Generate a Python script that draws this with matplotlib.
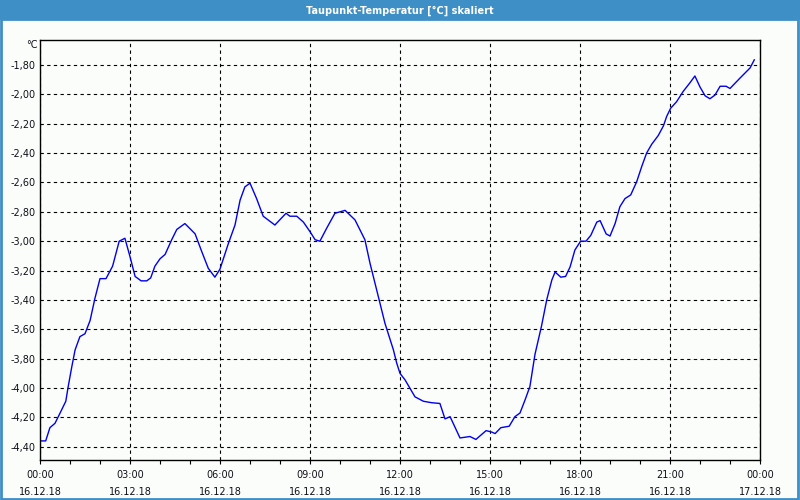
import numpy as np
import matplotlib.pyplot as plt
from matplotlib.patches import Rectangle
from matplotlib.ticker import MultipleLocator

title = 'Taupunkt-Temperatur [°C] skaliert'
unit = '°C'

# Stunden ab 16.12.18 00:00 und Taupunkt in °C
hours = [0.0, 0.19, 0.33, 0.5, 0.67, 0.86, 0.94, 1.06, 1.17, 1.33, 1.5, 1.67, 1.83,
         2.0, 2.2, 2.42, 2.64, 2.83, 3.0, 3.17, 3.37, 3.56, 3.69, 3.83, 4.0, 4.17,
         4.39, 4.56, 4.83, 5.17, 5.39, 5.61, 5.83, 6.0, 6.28, 6.5, 6.67, 6.83, 7.0,
         7.22, 7.44, 7.83, 8.2, 8.33, 8.56, 8.78, 9.0, 9.17, 9.33, 9.56, 9.83,
         10.17, 10.5, 10.83, 11.0, 11.22, 11.5, 11.78, 11.89, 12.0, 12.17, 12.5,
         12.78, 13.06, 13.33, 13.5, 13.67, 14.0, 14.33, 14.53, 14.87, 15.06, 15.17,
         15.36, 15.64, 15.83, 16.0, 16.17, 16.33, 16.5, 16.72, 16.89, 17.06, 17.17,
         17.36, 17.52, 17.67, 17.83, 18.02, 18.2, 18.36, 18.56, 18.67, 18.87, 19.0,
         19.17, 19.33, 19.5, 19.69, 19.89, 20.06, 20.22, 20.39, 20.61, 20.78,
         20.89, 21.02, 21.22, 21.44, 21.67, 21.83, 22.0, 22.17, 22.33, 22.5,
         22.67, 22.87, 23.0, 23.33, 23.67, 23.81]
taupunkt = [-4.36, -4.36, -4.27, -4.24, -4.17, -4.09, -3.99, -3.855, -3.74, -3.65,
            -3.63, -3.54, -3.39, -3.255, -3.255, -3.17, -3.0, -2.98, -3.105, -3.24,
            -3.27, -3.27, -3.25, -3.17, -3.12, -3.09, -2.99, -2.92, -2.88, -2.95,
            -3.07, -3.185, -3.245, -3.19, -3.015, -2.89, -2.72, -2.63, -2.605,
            -2.71, -2.83, -2.89, -2.81, -2.83, -2.83, -2.87, -2.935, -2.99, -3.0,
            -2.91, -2.81, -2.79, -2.855, -2.99, -3.15, -3.33, -3.56, -3.74, -3.83,
            -3.90, -3.945, -4.06, -4.09, -4.10, -4.105, -4.21, -4.195, -4.34, -4.33,
            -4.35, -4.29, -4.30, -4.31, -4.27, -4.26, -4.195, -4.17, -4.08, -3.99,
            -3.77, -3.575, -3.40, -3.265, -3.21, -3.245, -3.24, -3.175, -3.06, -3.0,
            -3.0, -2.96, -2.87, -2.86, -2.95, -2.965, -2.88, -2.765, -2.71, -2.685,
            -2.595, -2.49, -2.40, -2.34, -2.28, -2.215, -2.15, -2.095, -2.05, -1.98,
            -1.92, -1.875, -1.95, -2.01, -2.03, -2.005, -1.945, -1.945, -1.96,
            -1.89, -1.82, -1.765]

xticks = [0, 3, 6, 9, 12, 15, 18, 21, 24]
xlabels = ['00:00\n16.12.18', '03:00\n16.12.18', '06:00\n16.12.18', '09:00\n16.12.18',
           '12:00\n16.12.18', '15:00\n16.12.18', '18:00\n16.12.18', '21:00\n16.12.18',
           '00:00\n17.12.18']
yticks = np.round(np.arange(-4.4, -1.79, 0.2), 2)

blau = '#3d8fc6'
plt.rcParams['font.family'] = ['DejaVu Sans']

fig = plt.figure(figsize=(8, 5), dpi=100, facecolor='#fbfdfb')

# Titelleiste und Rahmen
fig.patches.append(Rectangle((0, 0.96), 1, 0.04, transform=fig.transFigure,
                             facecolor=blau, edgecolor='none', zorder=0))
fig.patches.append(Rectangle((0.0012, 0.002), 0.9966, 0.96, transform=fig.transFigure,
                             facecolor='none', edgecolor=blau, lw=2, zorder=0))
fig.text(0.5, 0.979, title, color='white', fontsize=7, fontweight='bold',
         ha='center', va='center')

ax = fig.add_axes([0.05, 0.08, 0.9, 0.84])
ax.set_facecolor('#fbfdfb')
ax.plot(hours, taupunkt, color='#0000ee', lw=1)

ax.set_xlim(0, 24)
ax.set_ylim(-4.49, -1.63)
ax.set_xticks(xticks)
ax.set_xticklabels(xlabels, fontsize=7, linespacing=1.9, color='#101018')
ax.xaxis.set_minor_locator(MultipleLocator(1))
ax.set_yticks(yticks)
ax.set_yticklabels([f'{v:.2f}'.replace('.', ',') for v in yticks], fontsize=7,
                   color='#101018')
ax.tick_params(axis='x', which='both', direction='out', length=3, width=0.8, pad=4)
ax.tick_params(axis='y', length=0, pad=3)
ax.grid(True, which='major', color='black', ls=(0, (3, 3)), lw=0.8)
for s in ax.spines.values():
    s.set_linewidth(1)

fig.text(38 / 800, 1 - 44.5 / 500, unit, fontsize=7, ha='right', va='center',
         color='#101018')

fig.savefig('out.png', dpi=100, facecolor=fig.get_facecolor())
